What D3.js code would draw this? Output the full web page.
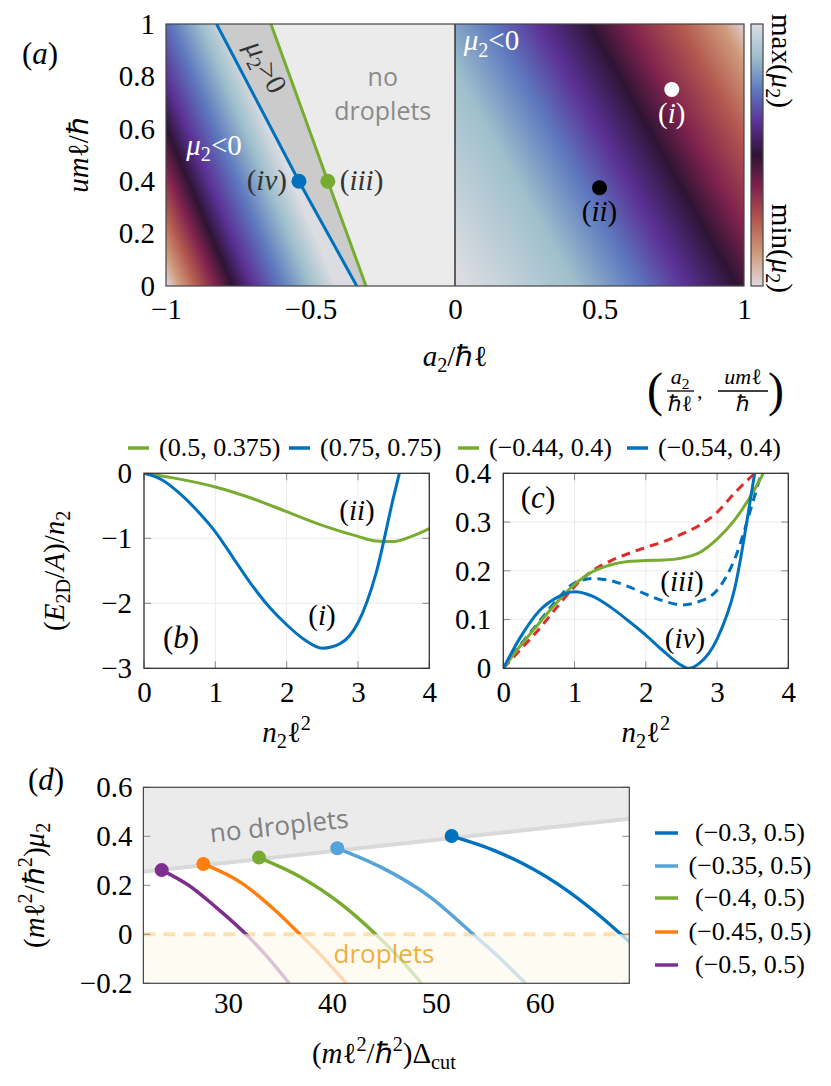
<!DOCTYPE html>
<html>
<head>
<meta charset="utf-8">
<script src="https://cdn.jsdelivr.net/npm/d3@7"></script>
<style>
  body { margin: 0; background: #fff; }
</style>
</head>
<body>
<svg id="fig" width="831" height="1086"></svg>
<script>

// colour map of panel (a), min at t=0 (bottom of the bar), max at t=1
var cmapT = [0, 0.125, 0.25, 0.375, 0.5, 0.625, 0.75, 0.875, 1];
var cmapColors = ["#e1d8de", "#cf9a7c", "#b3594f", "#80234e", "#2e1434", "#5b3196", "#5e7abf", "#9ebfcc", "#dcdde2"];

// panel (a): a2 where each colour level meets u=0, and how much the bands lean at u=1
var leftBandA2 = [-1.0, -0.95, -0.89, -0.83, -0.77, -0.70, -0.60, -0.50, -0.41];
var leftBandT = [0, 0.125, 0.25, 0.375, 0.5, 0.625, 0.75, 0.875, 1];
var leftBandTilt = -0.38;
var rightBandA2 = [0.03, 0.42, 0.63, 0.80, 0.975, 1.11, 1.285, 1.43, 1.52];
var rightBandT = [1, 0.875, 0.75, 0.625, 0.5, 0.375, 0.25, 0.125, 0];
var rightBandTilt = -0.508;

// boundary lines of panel (a), [a2, u]
var blueEdge = [[-0.34, 0], [-0.54, 0.4], [-0.825, 1]];
var greenEdge = [[-0.308, 0], [-0.44, 0.4], [-0.637, 1]];

// marked points in panel (a)
var markA2 = [-0.54, -0.44, 0.75, 0.5];
var markU = [0.4, 0.4, 0.75, 0.375];
var markLabels = ["iv", "iii", "i", "ii"];

var aXTicks = [-1, -0.5, 0, 0.5, 1];
var aYTicks = [0, 0.2, 0.4, 0.6, 0.8, 1];

// panel (b)
var bGreenN = [0, 0.5, 1, 1.5, 2, 2.5, 3, 3.25, 3.5, 3.75, 4];
var bGreenE = [0, -0.09, -0.21, -0.38, -0.59, -0.8, -0.97, -1.04, -1.05, -0.97, -0.85];
var bBlueN = [0, 0.25, 0.5, 0.75, 1, 1.25, 1.5, 1.75, 2, 2.25, 2.5, 2.75, 3, 3.25, 3.5, 3.58];
var bBlueE = [0, -0.1, -0.31, -0.58, -0.9, -1.3, -1.7, -2.05, -2.33, -2.56, -2.69, -2.62, -2.3, -1.55, -0.36, 0];
var bLegend = ["(0.5, 0.375)", "(0.75, 0.75)"];
var bXTicks = [0, 1, 2, 3, 4];
var bYTicks = [0, -1, -2, -3];

// panel (c)
var cRedN = [0, 0.25, 0.5, 0.75, 1, 1.25, 1.5, 1.75, 2, 2.25, 2.5, 2.75, 3, 3.25, 3.5, 3.53];
var cRedE = [0, 0.04, 0.08, 0.125, 0.168, 0.2, 0.22, 0.235, 0.248, 0.26, 0.275, 0.293, 0.32, 0.36, 0.396, 0.4];
var cGreenN = [0, 0.25, 0.5, 0.75, 1, 1.25, 1.5, 1.75, 2, 2.25, 2.5, 2.75, 3, 3.25, 3.5, 3.65];
var cGreenE = [0, 0.048, 0.092, 0.135, 0.172, 0.198, 0.212, 0.219, 0.221, 0.222, 0.226, 0.237, 0.265, 0.305, 0.36, 0.4];
var cBlueDashN = [0, 0.25, 0.5, 0.75, 1, 1.25, 1.5, 1.75, 2, 2.25, 2.5, 2.75, 3, 3.25, 3.5, 3.62];
var cBlueDashE = [0, 0.05, 0.095, 0.14, 0.175, 0.184, 0.18, 0.168, 0.152, 0.138, 0.13, 0.137, 0.16, 0.225, 0.34, 0.4];
var cBlueN = [0, 0.25, 0.5, 0.75, 1, 1.25, 1.5, 1.75, 2, 2.25, 2.5, 2.6, 2.75, 3, 3.25, 3.5, 3.55];
var cBlueE = [0, 0.066, 0.117, 0.145, 0.157, 0.148, 0.126, 0.098, 0.068, 0.035, 0.006, 0, 0.01, 0.06, 0.165, 0.375, 0.42];
var cLegend = ["(\u22120.44, 0.4)", "(\u22120.54, 0.4)"];
var cYTicks = [0, 0.1, 0.2, 0.3, 0.4];

// panel (d), [Delta_cut, mu2]
var dBoundary = [[21.85, 0.255], [68.62, 0.472]];
var dCurve30 = [[51.52, 0.401], [55.53, 0.344], [61.63, 0.208], [65.48, 0.086], [67.82, 0], [69.0, -0.045]];
var dCurve35 = [[40.51, 0.351], [44.62, 0.276], [49.43, 0.153], [53.6, 0], [56.1, -0.095], [58.63, -0.2]];
var dCurve40 = [[32.98, 0.313], [36.92, 0.235], [40.77, 0.127], [44.21, 0], [46.45, -0.095], [48.63, -0.2]];
var dCurve45 = [[27.62, 0.287], [31.35, 0.208], [34.5, 0.099], [36.92, 0], [39.15, -0.095], [41.37, -0.2]];
var dCurve50 = [[23.61, 0.262], [26.2, 0.2], [28.85, 0.11], [31.73, 0], [33.8, -0.093], [35.88, -0.2]];
var dLegend = ["(\u22120.3, 0.5)", "(\u22120.35, 0.5)", "(\u22120.4, 0.5)", "(\u22120.45, 0.5)", "(\u22120.5, 0.5)"];
var dXTicks = [30, 40, 50, 60];
var dYTicks = [-0.2, 0, 0.2, 0.4, 0.6];

var BLUE = "#0072bd", GREEN = "#77ac30";
var dColors = ["#0072bd", "#56a3d9", "#77ac30", "#ff7f0e", "#7e2f8e"];
var SERIF = "Liberation Serif";
var SANS = "Open Sans";
var FS = 29;
var fmt = d3.format("~g");

var svg = d3.select("#fig");
svg.append("rect").attr("width", 831).attr("height", 1086).attr("fill", "#fff");
var defs = svg.append("defs");
var cmap = d3.scaleLinear().domain(cmapT).range(cmapColors);

// text with italic parts, sub- and superscripts
function mathText(parent, tokens, size) {
  var t = parent.append("text").attr("font-size", size).attr("font-family", SERIF);
  var shift = 0;
  tokens.forEach(function(tok) {
    var k = tok[1] || "";
    var target = k.indexOf("_") >= 0 ? size * 0.22 : (k.indexOf("^") >= 0 ? -size * 0.4 : 0);
    var sp = t.append("tspan").text(tok[0]).attr("dy", target - shift);
    shift = target;
    if (target !== 0) sp.attr("font-size", size * 0.7);
    if (k.indexOf("i") >= 0) sp.attr("font-style", "italic");
  });
  return t;
}
function roman(s) { return [["("], [s, "i"], [")"]]; }
function plain(parent, size, str) {
  return parent.append("text").attr("font-size", size).attr("font-family", SERIF).text(str);
}

function tickText(g, axis, pad) {
  g.call(axis.tickSize(0).tickPadding(pad).tickFormat(fmt))
    .attr("font-size", FS).attr("font-family", SERIF)
    .call(function(s) { s.select(".domain").remove(); });
  g.selectAll("text").attr("font-family", SERIF);
}

// ---------------- panel (a) ----------------
var xA = d3.scaleLinear().domain([-1, 1]).range([166, 744]);
var yA = d3.scaleLinear().domain([0, 1]).range([286, 24]);

function bandGradient(id, a2s, ts, tilt) {
  var x0 = xA(a2s[0]), y0 = yA(0);
  var dx = xA(tilt) - xA(0), dy = yA(1) - yA(0);
  var len = Math.hypot(dx, dy);
  var nx = -dy / len, ny = dx / len;
  if (nx < 0) { nx = -nx; ny = -ny; }
  var last = a2s[a2s.length - 1];
  var span = (xA(last) - x0) * nx;
  var grad = defs.append("linearGradient").attr("id", id)
    .attr("gradientUnits", "userSpaceOnUse")
    .attr("x1", x0).attr("y1", y0)
    .attr("x2", x0 + nx * span).attr("y2", y0 + ny * span);
  grad.selectAll("stop").data(a2s).join("stop")
    .attr("offset", function(d) { return (d - a2s[0]) / (last - a2s[0]); })
    .attr("stop-color", function(d, i) { return cmap(ts[i]); });
}
bandGradient("leftBands", leftBandA2, leftBandT, leftBandTilt);
bandGradient("rightBands", rightBandA2, rightBandT, rightBandTilt);

var cbGrad = defs.append("linearGradient").attr("id", "cbar")
  .attr("x1", 0).attr("y1", 1).attr("x2", 0).attr("y2", 0);
cbGrad.selectAll("stop").data(cmapT).join("stop")
  .attr("offset", function(d) { return d; })
  .attr("stop-color", function(d, i) { return cmapColors[i]; });

defs.append("clipPath").attr("id", "clipA").append("rect")
  .attr("x", xA(-1)).attr("y", yA(1)).attr("width", xA(1) - xA(-1)).attr("height", yA(0) - yA(1));

var gA = svg.append("g");
var gAin = gA.append("g").attr("clip-path", "url(#clipA)");
gAin.append("rect").attr("x", xA(-1)).attr("y", yA(1))
  .attr("width", xA(0) - xA(-1)).attr("height", yA(0) - yA(1)).attr("fill", "url(#leftBands)");
gAin.append("rect").attr("x", xA(0)).attr("y", yA(1))
  .attr("width", xA(1) - xA(0)).attr("height", yA(0) - yA(1)).attr("fill", "url(#rightBands)");

var lineA = d3.line().x(function(d) { return xA(d[0]); }).y(function(d) { return yA(d[1]); });
gAin.append("path").attr("d", lineA(blueEdge.concat(greenEdge.slice().reverse())) + "Z").attr("fill", "#cbcbcb");
gAin.append("path").attr("d", lineA(greenEdge.concat([[0, 1], [0, 0]])) + "Z").attr("fill", "#ebebeb");
gAin.append("line").attr("x1", xA(0)).attr("x2", xA(0)).attr("y1", yA(0)).attr("y2", yA(1))
  .attr("stroke", "#333").attr("stroke-width", 1.5);
gAin.append("path").attr("d", lineA(blueEdge)).attr("fill", "none").attr("stroke", BLUE).attr("stroke-width", 3);
gAin.append("path").attr("d", lineA(greenEdge)).attr("fill", "none").attr("stroke", GREEN).attr("stroke-width", 3);

var markColors = [BLUE, GREEN, "#fff", "#000"];
gA.selectAll("circle.mark").data(markA2).join("circle").attr("class", "mark")
  .attr("cx", function(d) { return xA(d); })
  .attr("cy", function(d, i) { return yA(markU[i]); })
  .attr("r", 7.5)
  .attr("fill", function(d, i) { return markColors[i]; });

mathText(gA, roman(markLabels[0]), FS).attr("x", xA(markA2[0]) - 12).attr("y", yA(markU[0]) + 9)
  .attr("text-anchor", "end").attr("fill", "#333");
mathText(gA, roman(markLabels[1]), FS).attr("x", xA(markA2[1]) + 12).attr("y", yA(markU[1]) + 9)
  .attr("fill", "#333");
mathText(gA, roman(markLabels[2]), FS).attr("x", xA(markA2[2])).attr("y", yA(markU[2]) + 33)
  .attr("text-anchor", "middle").attr("fill", "#fff");
mathText(gA, roman(markLabels[3]), FS).attr("x", xA(markA2[3])).attr("y", yA(markU[3]) + 33)
  .attr("text-anchor", "middle").attr("fill", "#000");

var mu2lt = [["\u03bc", "i"], ["2", "_"], ["<0"]];
mathText(gA, mu2lt, 29).attr("x", xA(-0.93)).attr("y", yA(0.5)).attr("fill", "#fff");
mathText(gA, mu2lt, 29).attr("x", xA(0.03)).attr("y", yA(0.9)).attr("fill", "#fff");
var edgeAngle = Math.atan2(yA(blueEdge[0][1]) - yA(blueEdge[2][1]), xA(blueEdge[0][0]) - xA(blueEdge[2][0])) * 180 / Math.PI;
mathText(gA, [["\u03bc", "i"], ["2", "_"], [">0"]], 29)
  .attr("text-anchor", "middle").attr("fill", "#333")
  .attr("transform", "translate(" + xA(-0.683) + "," + yA(0.82) + ") rotate(" + edgeAngle + ")");

gA.append("text").attr("font-family", SANS).attr("font-size", 25).attr("fill", "#8a8a8a")
  .attr("text-anchor", "middle").attr("x", xA(-0.25)).attr("y", 86).text("no");
gA.append("text").attr("font-family", SANS).attr("font-size", 25).attr("fill", "#8a8a8a")
  .attr("text-anchor", "middle").attr("x", xA(-0.25)).attr("y", 120).text("droplets");

gA.append("rect").attr("x", xA(-1)).attr("y", yA(1))
  .attr("width", xA(1) - xA(-1)).attr("height", yA(0) - yA(1))
  .attr("fill", "none").attr("stroke", "#444").attr("stroke-width", 1.2);

// colour bar
gA.append("rect").attr("x", 751).attr("y", yA(1)).attr("width", 12).attr("height", yA(0) - yA(1))
  .attr("fill", "url(#cbar)").attr("stroke", "#444").attr("stroke-width", 1.2);
mathText(gA, [["max("], ["\u03bc", "i"], ["2", "_"], [")"]], FS)
  .attr("transform", "translate(772,14) rotate(90)");
mathText(gA, [["min("], ["\u03bc", "i"], ["2", "_"], [")"]], FS)
  .attr("text-anchor", "end").attr("transform", "translate(772,293) rotate(90)");

tickText(gA.append("g").attr("transform", "translate(0," + yA(0) + ")"),
  d3.axisBottom(xA).tickValues(aXTicks), 12);
tickText(gA.append("g").attr("transform", "translate(" + xA(-1) + ",0)"),
  d3.axisLeft(yA).tickValues(aYTicks), 11);

mathText(gA, [["a", "i"], ["2", "_"], ["/\u210f\u2113"]], FS)
  .attr("text-anchor", "middle").attr("x", xA(0)).attr("y", 366);
mathText(gA, [["um", "i"], ["\u2113"], ["/\u210f"]], FS)
  .attr("text-anchor", "middle").attr("transform", "translate(88," + yA(0.5) + ") rotate(-90)");
mathText(gA, roman("a"), 31).attr("text-anchor", "middle").attr("x", 40).attr("y", 64);

// legend heading (a2/hbar l, u m l/hbar)
var gF = svg.append("g");
plain(gF, 48, "(").attr("x", 647).attr("y", 406);
plain(gF, 48, ")").attr("x", 768).attr("y", 406);
mathText(gF, [["a", "i"], ["2", "_"]], 22).attr("text-anchor", "middle").attr("x", 680).attr("y", 384);
gF.append("line").attr("x1", 667).attr("x2", 694).attr("y1", 391).attr("y2", 391).attr("stroke", "#000").attr("stroke-width", 1.3);
plain(gF, 22, "\u210f\u2113").attr("text-anchor", "middle").attr("x", 680).attr("y", 411);
plain(gF, 22, ",").attr("x", 697).attr("y", 398);
mathText(gF, [["um", "i"], ["\u2113"]], 22).attr("text-anchor", "middle").attr("x", 743).attr("y", 384);
gF.append("line").attr("x1", 718).attr("x2", 768).attr("y1", 391).attr("y2", 391).attr("stroke", "#000").attr("stroke-width", 1.3);
plain(gF, 22, "\u210f").attr("text-anchor", "middle").attr("x", 743).attr("y", 411);

// ---------------- panels (b) and (c) ----------------
function lineFrame(g, x, y, xt, yt, id) {
  var x0 = x.range()[0], x1 = x.range()[1], y0 = y.range()[0], y1 = y.range()[1];
  defs.append("clipPath").attr("id", id).append("rect")
    .attr("x", x0).attr("y", y1).attr("width", x1 - x0).attr("height", y0 - y1);
  g.selectAll("line.gx").data(xt).join("line").attr("class", "gx")
    .attr("x1", function(d) { return x(d); }).attr("x2", function(d) { return x(d); })
    .attr("y1", y0).attr("y2", y1).attr("stroke", "#ececec");
  g.selectAll("line.gy").data(yt).join("line").attr("class", "gy")
    .attr("y1", function(d) { return y(d); }).attr("y2", function(d) { return y(d); })
    .attr("x1", x0).attr("x2", x1).attr("stroke", "#ececec");
  [[y0, -7], [y1, 7]].forEach(function(p) {
    g.append("g").selectAll("line").data(xt).join("line")
      .attr("x1", function(d) { return x(d); }).attr("x2", function(d) { return x(d); })
      .attr("y1", p[0]).attr("y2", p[0] + p[1]).attr("stroke", "#888");
  });
  [[x0, 7], [x1, -7]].forEach(function(p) {
    g.append("g").selectAll("line").data(yt).join("line")
      .attr("y1", function(d) { return y(d); }).attr("y2", function(d) { return y(d); })
      .attr("x1", p[0]).attr("x2", p[0] + p[1]).attr("stroke", "#888");
  });
}
function frameBox(g, x, y) {
  g.append("rect").attr("x", x.range()[0]).attr("y", y.range()[1])
    .attr("width", x.range()[1] - x.range()[0]).attr("height", y.range()[0] - y.range()[1])
    .attr("fill", "none").attr("stroke", "#333").attr("stroke-width", 1.3);
}
function zipXY(xs, ys) { return xs.map(function(v, i) { return [v, ys[i]]; }); }
function legendRow(g, x, y, color, label) {
  g.append("line").attr("x1", x).attr("x2", x + 21).attr("y1", y).attr("y2", y)
    .attr("stroke", color).attr("stroke-width", 3.5);
  plain(g, 26, label).attr("x", x + 31).attr("y", y + 8);
}

var xB = d3.scaleLinear().domain([0, 4]).range([144, 429.3]);
var yB = d3.scaleLinear().domain([-3, 0]).range([668.3, 473.3]);
var gB = svg.append("g");
lineFrame(gB, xB, yB, bXTicks, bYTicks, "clipB");
var lineB = d3.line().curve(d3.curveMonotoneX)
  .x(function(d) { return xB(d[0]); }).y(function(d) { return yB(d[1]); });
var gBin = gB.append("g").attr("clip-path", "url(#clipB)");
gBin.append("path").datum(zipXY(bGreenN, bGreenE)).attr("d", lineB)
  .attr("fill", "none").attr("stroke", GREEN).attr("stroke-width", 3);
gBin.append("path").datum(zipXY(bBlueN, bBlueE)).attr("d", lineB)
  .attr("fill", "none").attr("stroke", BLUE).attr("stroke-width", 3);
frameBox(gB, xB, yB);
tickText(gB.append("g").attr("transform", "translate(0," + yB(-3) + ")"),
  d3.axisBottom(xB).tickValues(bXTicks), 13);
tickText(gB.append("g").attr("transform", "translate(" + xB(0) + ",0)"),
  d3.axisLeft(yB).tickValues(bYTicks), 12);
mathText(gB, roman("ii"), FS).attr("text-anchor", "middle").attr("x", 357).attr("y", 520);
mathText(gB, roman("i"), FS).attr("text-anchor", "middle").attr("x", 322).attr("y", 625);
mathText(gB, roman("b"), 31).attr("text-anchor", "middle").attr("x", 181).attr("y", 648);
mathText(gB, [["n", "i"], ["2", "_"], ["\u2113"], ["2", "^"]], FS)
  .attr("text-anchor", "middle").attr("x", xB(2)).attr("y", 742);
mathText(gB, [["("], ["E", "i"], ["2D", "_"], ["/"], ["A", "i"], [")/"], ["n", "i"], ["2", "_"]], FS)
  .attr("text-anchor", "middle").attr("transform", "translate(64," + yB(-1.5) + ") rotate(-90)");
legendRow(gB, 128, 448, GREEN, bLegend[0]);
legendRow(gB, 289, 448, BLUE, bLegend[1]);

var xC = d3.scaleLinear().domain([0, 4]).range([503.3, 788.3]);
var yC = d3.scaleLinear().domain([0, 0.4]).range([668.3, 473.3]);
var gC = svg.append("g");
lineFrame(gC, xC, yC, bXTicks, cYTicks, "clipC");
var lineC = d3.line().curve(d3.curveMonotoneX)
  .x(function(d) { return xC(d[0]); }).y(function(d) { return yC(d[1]); });
var gCin = gC.append("g").attr("clip-path", "url(#clipC)");
gCin.append("path").datum(zipXY(cRedN, cRedE)).attr("d", lineC)
  .attr("fill", "none").attr("stroke", "#e02b2b").attr("stroke-width", 3).attr("stroke-dasharray", "9,6");
gCin.append("path").datum(zipXY(cBlueDashN, cBlueDashE)).attr("d", lineC)
  .attr("fill", "none").attr("stroke", BLUE).attr("stroke-width", 3).attr("stroke-dasharray", "9,6");
gCin.append("path").datum(zipXY(cGreenN, cGreenE)).attr("d", lineC)
  .attr("fill", "none").attr("stroke", GREEN).attr("stroke-width", 3);
gCin.append("path").datum(zipXY(cBlueN, cBlueE)).attr("d", lineC)
  .attr("fill", "none").attr("stroke", BLUE).attr("stroke-width", 3);
frameBox(gC, xC, yC);
tickText(gC.append("g").attr("transform", "translate(0," + yC(0) + ")"),
  d3.axisBottom(xC).tickValues(bXTicks), 13);
tickText(gC.append("g").attr("transform", "translate(" + xC(0) + ",0)"),
  d3.axisLeft(yC).tickValues(cYTicks), 12);
mathText(gC, roman("iii"), FS).attr("text-anchor", "middle").attr("x", 682).attr("y", 591);
mathText(gC, roman("iv"), FS).attr("text-anchor", "middle").attr("x", 685).attr("y", 648);
mathText(gC, roman("c"), 31).attr("text-anchor", "middle").attr("x", 538).attr("y", 508);
mathText(gC, [["n", "i"], ["2", "_"], ["\u2113"], ["2", "^"]], FS)
  .attr("text-anchor", "middle").attr("x", xC(2)).attr("y", 742);
legendRow(gC, 458, 448, GREEN, cLegend[0]);
legendRow(gC, 627, 448, BLUE, cLegend[1]);

// ---------------- panel (d) ----------------
var xD = d3.scaleLinear().domain([21.85, 68.62]).range([143.4, 629.3]);
var yD = d3.scaleLinear().domain([-0.2, 0.6]).range([983.3, 787.3]);
var gD = svg.append("g");
defs.append("clipPath").attr("id", "dAbove").append("rect")
  .attr("x", xD(21.85)).attr("y", yD(0.6)).attr("width", xD(68.62) - xD(21.85)).attr("height", yD(0) - yD(0.6));
defs.append("clipPath").attr("id", "dBelow").append("rect")
  .attr("x", xD(21.85)).attr("y", yD(0)).attr("width", xD(68.62) - xD(21.85)).attr("height", yD(-0.2) - yD(0));

var lineD = d3.line().x(function(d) { return xD(d[0]); }).y(function(d) { return yD(d[1]); });
gD.append("rect").attr("x", xD(21.85)).attr("y", yD(0))
  .attr("width", xD(68.62) - xD(21.85)).attr("height", yD(-0.2) - yD(0)).attr("fill", "#fefbf3");
gD.append("path").attr("d", lineD(dBoundary.concat([[68.62, 0.6], [21.85, 0.6]])) + "Z").attr("fill", "#ebebeb");
gD.append("path").attr("d", lineD(dBoundary)).attr("stroke", "#d9d9d9").attr("stroke-width", 4).attr("fill", "none");
gD.append("line").attr("x1", xD(21.85)).attr("x2", xD(68.62)).attr("y1", yD(0)).attr("y2", yD(0))
  .attr("stroke", "#fbe2b0").attr("stroke-width", 4).attr("stroke-dasharray", "12,8");

// ticks on both sides
[[xD(21.85), 7], [xD(68.62), -7]].forEach(function(p) {
  gD.append("g").selectAll("line").data(dYTicks).join("line")
    .attr("y1", function(d) { return yD(d); }).attr("y2", function(d) { return yD(d); })
    .attr("x1", p[0]).attr("x2", p[0] + p[1]).attr("stroke", "#888");
});

var bAngle = Math.atan2(yD(dBoundary[1][1]) - yD(dBoundary[0][1]), xD(dBoundary[1][0]) - xD(dBoundary[0][0])) * 180 / Math.PI;
gD.append("text").attr("font-family", SANS).attr("font-size", 26).attr("fill", "#808080")
  .attr("text-anchor", "middle").attr("transform", "translate(280,835) rotate(" + bAngle + ")").text("no droplets");
gD.append("text").attr("font-family", SANS).attr("font-size", 26).attr("fill", "#f0b040")
  .attr("text-anchor", "middle").attr("x", 384).attr("y", 963).text("droplets");

var dSeries = [dCurve30, dCurve35, dCurve40, dCurve45, dCurve50];
var lineDc = d3.line().curve(d3.curveMonotoneX)
  .x(function(d) { return xD(d[0]); }).y(function(d) { return yD(d[1]); });
dSeries.forEach(function(pts, i) {
  gD.append("path").datum(pts).attr("clip-path", "url(#dBelow)").attr("d", lineDc)
    .attr("fill", "none").attr("stroke", dColors[i]).attr("stroke-width", 3.5).attr("stroke-opacity", 0.28);
  gD.append("path").datum(pts).attr("clip-path", "url(#dAbove)").attr("d", lineDc)
    .attr("fill", "none").attr("stroke", dColors[i]).attr("stroke-width", 3.5);
  gD.append("circle").attr("cx", xD(pts[0][0])).attr("cy", yD(pts[0][1])).attr("r", 7)
    .attr("fill", dColors[i]);
});

gD.append("rect").attr("x", xD(21.85)).attr("y", yD(0.6))
  .attr("width", xD(68.62) - xD(21.85)).attr("height", yD(-0.2) - yD(0.6))
  .attr("fill", "none").attr("stroke", "#444").attr("stroke-width", 1.2);
tickText(gD.append("g").attr("transform", "translate(0," + yD(-0.2) + ")"),
  d3.axisBottom(xD).tickValues(dXTicks), 9);
tickText(gD.append("g").attr("transform", "translate(" + xD(21.85) + ",0)"),
  d3.axisLeft(yD).tickValues(dYTicks), 11);

mathText(gD, roman("d"), 31).attr("text-anchor", "middle").attr("x", 46).attr("y", 790);
mathText(gD, [["("], ["m", "i"], ["\u2113"], ["2", "^"], ["/\u210f"], ["2", "^"], [")"], ["\u03bc", "i"], ["2", "_"]], FS)
  .attr("text-anchor", "middle").attr("transform", "translate(44," + yD(0.2) + ") rotate(-90)");
mathText(gD, [["("], ["m", "i"], ["\u2113"], ["2", "^"], ["/\u210f"], ["2", "^"], [")\u0394"], ["cut", "_"]], FS)
  .attr("text-anchor", "middle").attr("x", xD(45)).attr("y", 1063);

var dLegendY = [833, 866, 898, 932, 965];
dLegend.forEach(function(lab, i) {
  gD.append("line").attr("x1", 655).attr("x2", 678).attr("y1", dLegendY[i]).attr("y2", dLegendY[i])
    .attr("stroke", dColors[i]).attr("stroke-width", 3.5);
  plain(gD, 26, lab).attr("text-anchor", "middle").attr("x", 750).attr("y", dLegendY[i] + 8);
});

</script>
</body>
</html>
